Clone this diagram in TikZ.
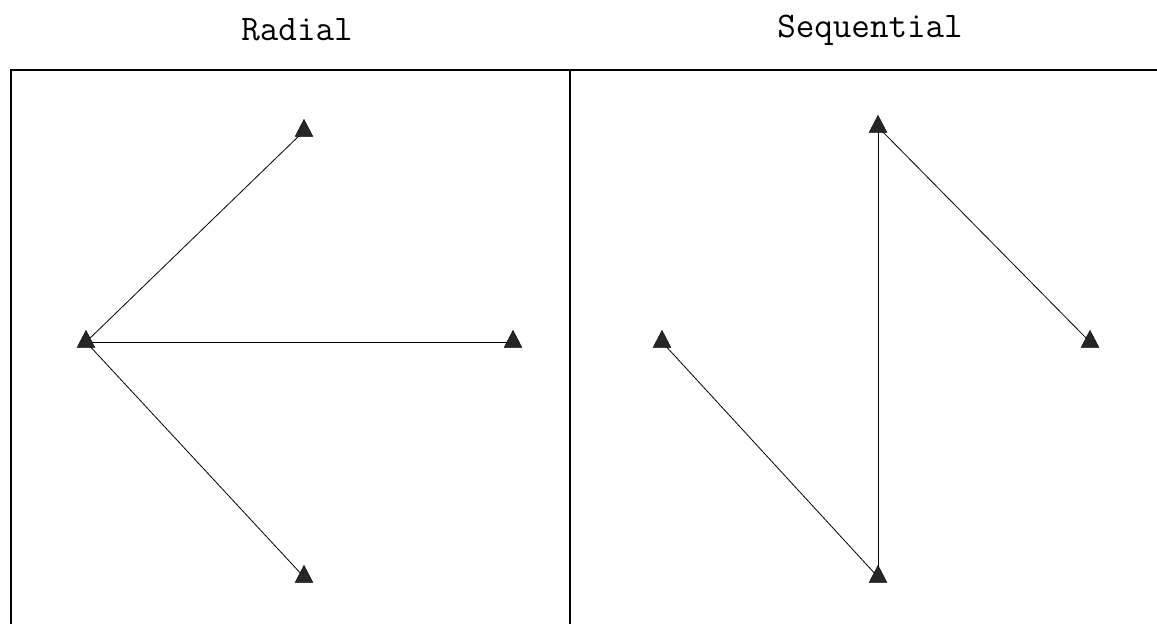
\documentclass[tikz,border=0pt]{standalone}
\usetikzlibrary{shapes.geometric}
\begin{document}
\begin{tikzpicture}[x=1pt,y=-1pt,
  tri/.style={draw=black,fill=black!85,isosceles triangle,isosceles triangle apex angle=55,shape border rotate=90,inner sep=0pt,minimum height=17pt,minimum width=15pt},
  link/.style={draw=black,line width=0.8pt},
  frame/.style={draw=black,line width=1.4pt},
  title/.style={font=\ttfamily\fontsize{36}{36}\selectfont}]
\useasboundingbox (0,0) rectangle (1157,624);
% frames
\draw[frame] (11,624) -- (11,70) -- (1157,70);
\draw[frame] (570,70) -- (570,624);
% titles
\node[title] (tR) at (297,30) {Radial};
\node[title] (tS) at (870,30) {Sequential};
% radial
\coordinate (rl) at (86,342);
\coordinate (rt) at (304,131);
\coordinate (rr) at (513,342);
\coordinate (rb) at (304,577);
\draw[link] (rl) -- (rt);
\draw[link] (rl) -- (rr);
\draw[link] (rl) -- (rb);
\node[tri] (nrl) at (rl) {};
\node[tri] (nrt) at (rt) {};
\node[tri] (nrr) at (rr) {};
\node[tri] (nrb) at (rb) {};
% sequential
\coordinate (sl) at (662,342);
\coordinate (st) at (878,127);
\coordinate (sr) at (1090,342);
\coordinate (sb) at (878,577);
\draw[link] (sl) -- (sb);
\draw[link] (sb) -- (st);
\draw[link] (st) -- (sr);
\node[tri] (nsl) at (sl) {};
\node[tri] (nst) at (st) {};
\node[tri] (nsr) at (sr) {};
\node[tri] (nsb) at (sb) {};
\end{tikzpicture}
\end{document}
